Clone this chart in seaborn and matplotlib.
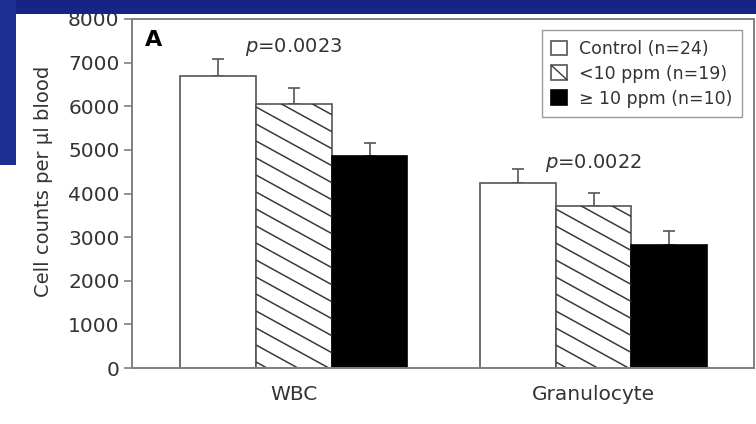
import numpy as np
import pandas as pd
import matplotlib
matplotlib.use("Agg")
import matplotlib.pyplot as plt
import seaborn as sns
from matplotlib.patches import Patch, Rectangle
from matplotlib.lines import Line2D
from matplotlib.collections import LineCollection
from matplotlib.transforms import IdentityTransform
from matplotlib.legend_handler import HandlerPatch

# ---- data -------------------------------------------------------------
cell_types = ["WBC", "Granulocyte"]
groups = ["Control (n=24)", "<10 ppm (n=19)", "\u2265 10 ppm (n=10)"]
wbc_means = [6700, 6050, 4850]
wbc_sem = [380, 370, 300]
gran_means = [4230, 3720, 2830]
gran_sem = [330, 300, 300]
p_values = ["0.0023", "0.0022"]
y_ticks = [0, 1000, 2000, 3000, 4000, 5000, 6000, 7000, 8000]

df = pd.DataFrame({
    "cell": np.repeat(cell_types, len(groups)),
    "group": groups * len(cell_types),
    "count": wbc_means + gran_means,
    "sem": wbc_sem + gran_sem,
})

# ---- style ------------------------------------------------------------
sns.set_style("white")
plt.rcParams["font.family"] = ["DejaVu Sans"]
plt.rcParams["mathtext.fontset"] = "dejavusans"
TEXT = "#333333"
EDGE = "#555555"
SPINE = "#808080"
HATCH = "#3a3a3a"

fills = {groups[0]: "white", groups[1]: "white", groups[2]: "black"}

fig = plt.figure(figsize=(7.56, 4.24), dpi=100)
fig.patch.set_facecolor("white")
# slide background strips
fig.patches.append(Rectangle((0, 1 - 14 / 424), 1, 14 / 424, transform=fig.transFigure,
                             facecolor="#142585", edgecolor="none", zorder=0))
fig.patches.append(Rectangle((0, 1 - 165 / 424), 16 / 756, 165 / 424, transform=fig.transFigure,
                             facecolor="#1c2e90", edgecolor="none", zorder=0))

ax = fig.add_axes([132 / 756, 56 / 424, 622 / 756, 349 / 424])
ax.set_facecolor("white")

sns.barplot(data=df, x="cell", y="count", hue="group", order=cell_types,
            hue_order=groups, palette=fills, width=0.757, errorbar=None,
            legend=False, saturation=1, linewidth=1.2, edgecolor=EDGE, ax=ax)

ax.set_xlim(-0.54, 1.535)
ax.set_ylim(0, 8000)
ax.set_yticks(y_ticks)
ax.set_yticklabels([str(t) for t in y_ticks])

# colour, hatch and error bar for each bar, looked up from its height
hatched = []
for bar in list(ax.patches):
    h = bar.get_height()
    row = df.loc[(df["count"] - h).abs().idxmin()]
    cx = bar.get_x() + bar.get_width() / 2
    if row["group"] == groups[2]:
        bar.set_edgecolor("black")
    if row["group"] == groups[1]:
        hatched.append(bar)
    ax.errorbar([cx], [row["count"]], yerr=[[0], [row["sem"]]], fmt="none",
                ecolor=EDGE, elinewidth=1.2, capsize=4.5, capthick=1.2, zorder=1)
    bar.set_zorder(2)

# shallow diagonal shading inside the hatched bars (pixel space, clipped to the bar)
slope = 0.55
step = 17.0
for bar in hatched:
    (x0, y0), (x1, y1) = ax.transData.transform(
        [(bar.get_x(), 0), (bar.get_x() + bar.get_width(), bar.get_height())])
    w = x1 - x0
    offsets = np.arange(y0 + 6, y1 + slope * w + step, step)
    segs = [[(x0, c), (x1, c - slope * w)] for c in offsets]
    lc = LineCollection(segs, colors=HATCH, linewidths=1.1,
                        transform=IdentityTransform(), zorder=2.5)
    ax.add_collection(lc, autolim=False)
    lc.set_clip_path(bar)

# p values above each group
ax.text(0, 7360, r"$\it{p}$=" + p_values[0], ha="center", va="center",
        fontsize=14, color=TEXT)
ax.text(1, 4700, r"$\it{p}$=" + p_values[1], ha="center", va="center",
        fontsize=14, color=TEXT)
ax.text(0.021, 0.968, "A", transform=ax.transAxes, ha="left", va="top",
        fontsize=16, fontweight="bold", color="black")

# axes cosmetics
for side in ["left", "right", "top", "bottom"]:
    ax.spines[side].set_visible(True)
    ax.spines[side].set_color(SPINE)
    ax.spines[side].set_linewidth(1.4)
ax.tick_params(axis="y", direction="out", length=6, width=1.2, color=SPINE,
               labelsize=14.5, labelcolor=TEXT, pad=3, left=True)
ax.tick_params(axis="x", length=0, labelsize=14.5, labelcolor=TEXT, pad=12)
ax.set_xlabel("")
ax.set_ylabel("Cell counts per \u00b5l blood", fontsize=14, color=TEXT, labelpad=11)
ax.yaxis.label.set_y(0.536)


class HandlerSlash(HandlerPatch):
    """Legend key: open square crossed by one diagonal stroke."""

    def create_artists(self, legend, orig_handle, xdescent, ydescent,
                       width, height, fontsize, trans):
        arts = super().create_artists(legend, orig_handle, xdescent, ydescent,
                                      width, height, fontsize, trans)
        stroke = Line2D([-xdescent, -xdescent + width],
                        [-ydescent + height, -ydescent],
                        color=HATCH, linewidth=1.0)
        stroke.set_transform(trans)
        return arts + [stroke]


# legend
handles = [
    Patch(facecolor="white", edgecolor=EDGE, linewidth=1.2),
    Patch(facecolor="white", edgecolor=EDGE, linewidth=1.2),
    Patch(facecolor="black", edgecolor="black", linewidth=1.2),
]
leg = ax.legend(handles, groups, loc="upper right", bbox_to_anchor=(0.981, 0.968),
                borderaxespad=0, fontsize=12.5, frameon=True, fancybox=False,
                handlelength=0.9, handleheight=0.9, handletextpad=0.7,
                labelspacing=0.4, borderpad=0.55, framealpha=1,
                handler_map={handles[1]: HandlerSlash()})
leg.get_frame().set_edgecolor("#999999")
leg.get_frame().set_linewidth(1.0)
for t in leg.get_texts():
    t.set_color(TEXT)

fig.savefig("out.png", dpi=100, facecolor=fig.get_facecolor())
